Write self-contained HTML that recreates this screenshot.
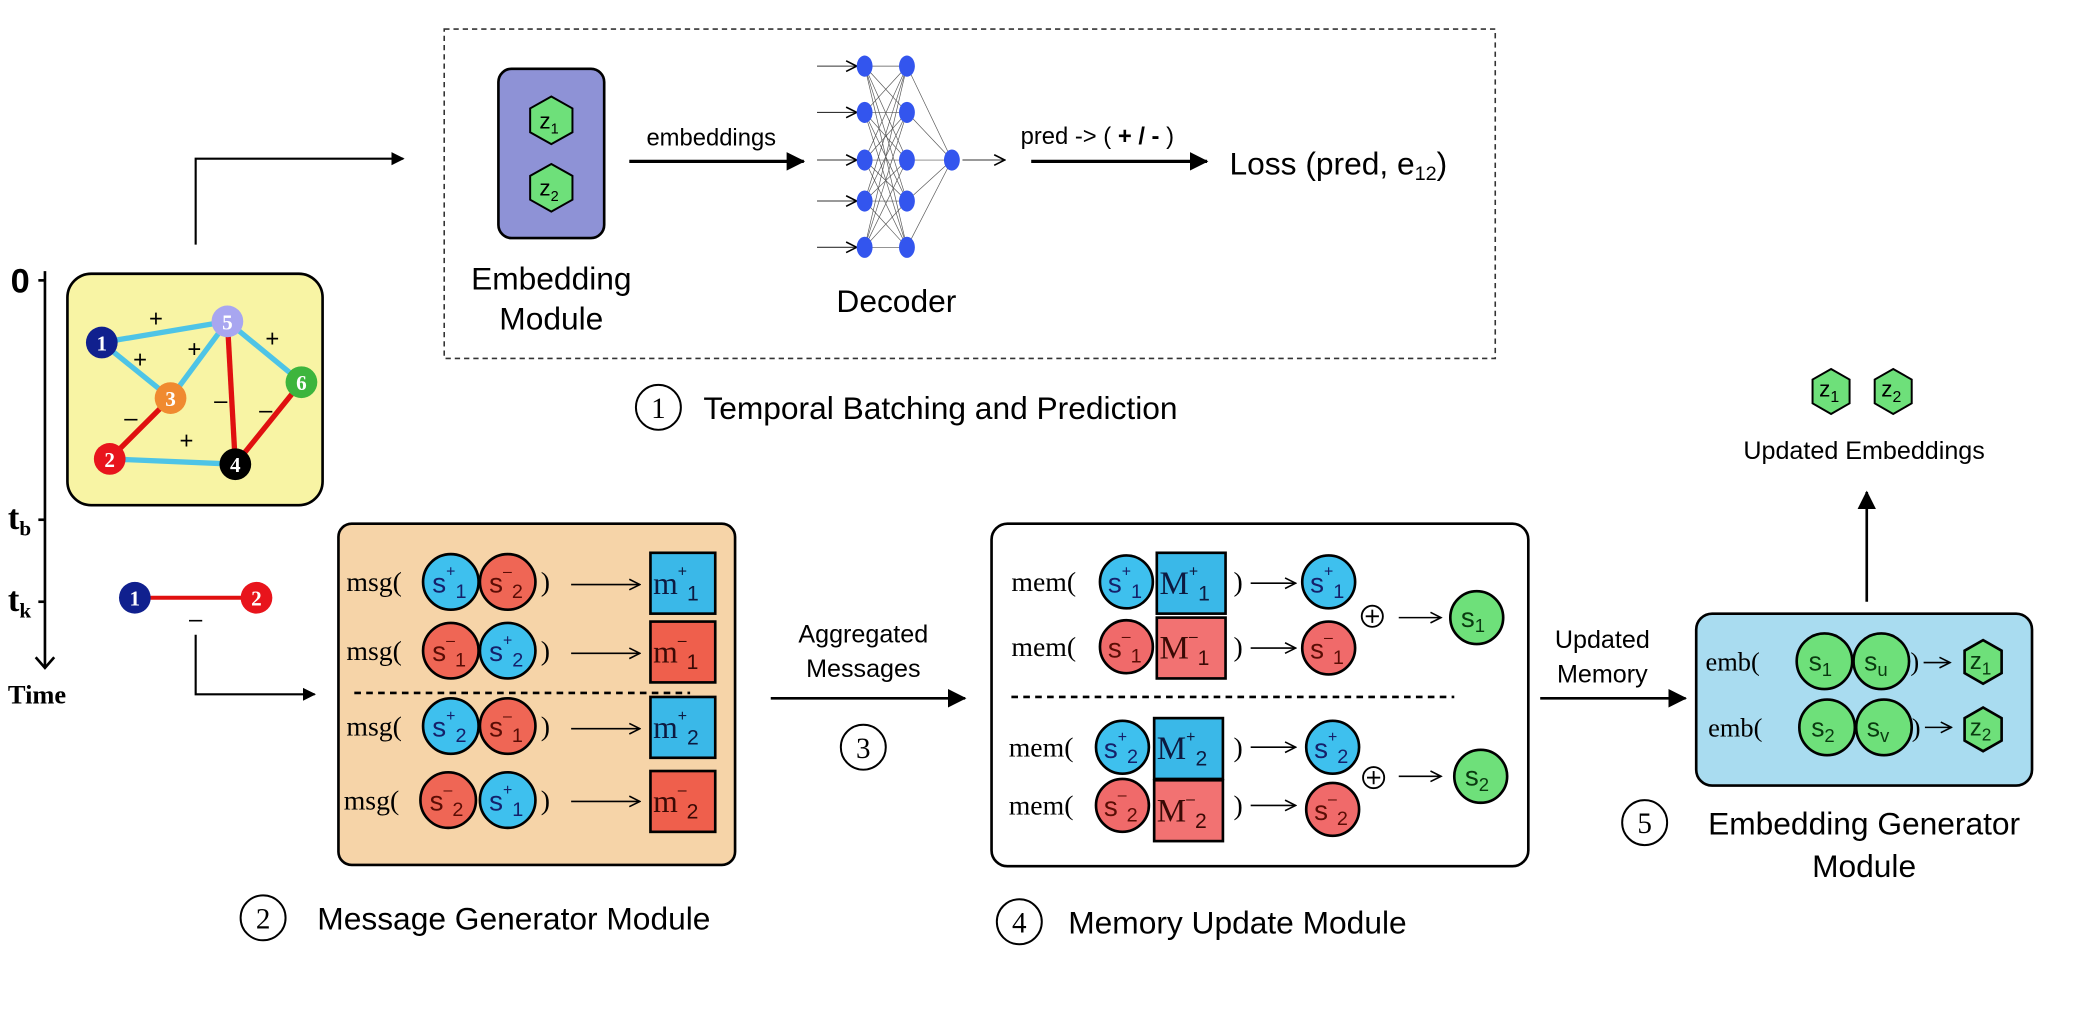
<!DOCTYPE html>
<html><head><meta charset="utf-8"><style>
html,body{margin:0;padding:0;background:#fff;width:2073px;height:1017px;overflow:hidden}
svg{display:block}
.sans{font-family:"Liberation Sans",sans-serif}
.serif{font-family:"Liberation Serif",serif}
</style></head><body>
<svg width="2073" height="1017" viewBox="0 0 1568 769" preserveAspectRatio="none" xmlns="http://www.w3.org/2000/svg">
<defs>
<marker id="ah" markerWidth="10" markerHeight="10" refX="9" refY="5" orient="auto" markerUnits="userSpaceOnUse"><path d="M0,0 L10,5 L0,10 z" fill="#000"/></marker>
<marker id="ab" markerWidth="14" markerHeight="14" refX="13" refY="7" orient="auto" markerUnits="userSpaceOnUse"><path d="M0,0 L14,7 L0,14 z" fill="#000"/></marker>
<marker id="as" markerWidth="10" markerHeight="10" refX="9" refY="5" orient="auto" markerUnits="userSpaceOnUse"><path d="M1,1 L9,5 L1,9" fill="none" stroke="#000" stroke-width="1.2"/></marker>
</defs>
<rect width="1568" height="769" fill="#fff"/>

<!-- Time axis -->
<g class="serif" font-weight="bold">
<line x1="34" y1="205" x2="34" y2="505" stroke="#000" stroke-width="2"/>
<path d="M27,497 L34,505 L41,497" fill="none" stroke="#000" stroke-width="2"/>
<line x1="29" y1="212" x2="34" y2="212" stroke="#000" stroke-width="2"/>
<line x1="29" y1="393" x2="34" y2="393" stroke="#000" stroke-width="2"/>
<line x1="29" y1="455" x2="34" y2="455" stroke="#000" stroke-width="2"/>
<text x="8" y="221" font-size="26" class="sans">0</text>
<text x="6" y="400" font-size="26">t<tspan font-size="16" dy="5">b</tspan></text>
<text x="6" y="462" font-size="26">t<tspan font-size="16" dy="5">k</tspan></text>
<text x="6" y="532" font-size="20">Time</text>
</g>

<!-- Yellow graph -->
<rect x="51" y="207" width="193" height="175" rx="18" fill="#f8f4a4" stroke="#000" stroke-width="2"/>
<g stroke-width="4">
<line x1="77" y1="259" x2="172" y2="243" stroke="#4ec4e6"/>
<line x1="77" y1="259" x2="129" y2="301" stroke="#4ec4e6"/>
<line x1="129" y1="301" x2="172" y2="243" stroke="#4ec4e6"/>
<line x1="172" y1="243" x2="228" y2="289" stroke="#4ec4e6"/>
<line x1="83" y1="347" x2="178" y2="351" stroke="#4ec4e6"/>
<line x1="129" y1="301" x2="83" y2="347" stroke="#e01010"/>
<line x1="172" y1="243" x2="178" y2="351" stroke="#e01010"/>
<line x1="228" y1="289" x2="178" y2="351" stroke="#e01010"/>
</g>
<g class="sans" font-size="18" text-anchor="middle">
<text x="118" y="247">+</text><text x="106" y="278">+</text><text x="147" y="270">+</text><text x="206" y="262">+</text><text x="141" y="339">+</text>
<text x="99" y="322">–</text><text x="167" y="309">–</text><text x="201" y="316">–</text>
</g>
<g class="serif" font-weight="bold" font-size="16" text-anchor="middle" fill="#fff">
<circle cx="77" cy="259" r="12" fill="#10208e"/><text x="77" y="265">1</text>
<circle cx="172" cy="243" r="12" fill="#a8a6f0"/><text x="172" y="249">5</text>
<circle cx="129" cy="301" r="12" fill="#f08a30"/><text x="129" y="307">3</text>
<circle cx="228" cy="289" r="12" fill="#3db53d"/><text x="228" y="295">6</text>
<circle cx="83" cy="347" r="12" fill="#e8141c"/><text x="83" y="353">2</text>
<circle cx="178" cy="351" r="12" fill="#000"/><text x="178" y="357">4</text>
</g>

<!-- tk edge -->
<line x1="102" y1="452" x2="194" y2="452" stroke="#e01010" stroke-width="3"/>
<g class="serif" font-weight="bold" font-size="16" text-anchor="middle" fill="#fff">
<circle cx="102" cy="452" r="12" fill="#10208e"/><text x="102" y="458">1</text>
<circle cx="194" cy="452" r="12" fill="#e8141c"/><text x="194" y="458">2</text>
</g>
<text x="148" y="474" class="sans" font-size="18" text-anchor="middle">–</text>
<polyline points="148,480 148,525 238,525" fill="none" stroke="#000" stroke-width="1.6" marker-end="url(#ah)"/>
<polyline points="148,185 148,120 305,120" fill="none" stroke="#000" stroke-width="1.6" marker-end="url(#ah)"/>

<!-- Top dashed box -->
<rect x="336" y="22" width="795" height="249" fill="none" stroke="#333" stroke-width="1.2" stroke-dasharray="4,3"/>
<rect x="377" y="52" width="80" height="128" rx="10" fill="#8e92d6" stroke="#000" stroke-width="2"/>
<g class="sans" font-size="17">
<polygon points="417,73 433,82 433,100 417,109 401,100 401,82" fill="#6ee07a" stroke="#000" stroke-width="1.5"/>
<text x="408" y="97">z<tspan font-size="11" dy="4">1</tspan></text>
<polygon points="417,124 433,133 433,151 417,160 401,151 401,133" fill="#6ee07a" stroke="#000" stroke-width="1.5"/>
<text x="408" y="148">z<tspan font-size="11" dy="4">2</tspan></text>
</g>
<g class="sans" font-size="24" text-anchor="middle">
<text x="417" y="219">Embedding</text><text x="417" y="249">Module</text>
<text x="678" y="236">Decoder</text>
</g>
<text x="538" y="110" class="sans" font-size="18" text-anchor="middle">embeddings</text>
<line x1="476" y1="122" x2="608" y2="122" stroke="#000" stroke-width="2.5" marker-end="url(#ab)"/>

<!-- NN -->
<g stroke="#555" stroke-width="0.5">
<line x1="654" y1="50" x2="686" y2="50"/><line x1="654" y1="50" x2="686" y2="85"/><line x1="654" y1="50" x2="686" y2="121"/><line x1="654" y1="50" x2="686" y2="152"/><line x1="654" y1="50" x2="686" y2="187"/>
<line x1="654" y1="85" x2="686" y2="50"/><line x1="654" y1="85" x2="686" y2="85"/><line x1="654" y1="85" x2="686" y2="121"/><line x1="654" y1="85" x2="686" y2="152"/><line x1="654" y1="85" x2="686" y2="187"/>
<line x1="654" y1="121" x2="686" y2="50"/><line x1="654" y1="121" x2="686" y2="85"/><line x1="654" y1="121" x2="686" y2="121"/><line x1="654" y1="121" x2="686" y2="152"/><line x1="654" y1="121" x2="686" y2="187"/>
<line x1="654" y1="152" x2="686" y2="50"/><line x1="654" y1="152" x2="686" y2="85"/><line x1="654" y1="152" x2="686" y2="121"/><line x1="654" y1="152" x2="686" y2="152"/><line x1="654" y1="152" x2="686" y2="187"/>
<line x1="654" y1="187" x2="686" y2="50"/><line x1="654" y1="187" x2="686" y2="85"/><line x1="654" y1="187" x2="686" y2="121"/><line x1="654" y1="187" x2="686" y2="152"/><line x1="654" y1="187" x2="686" y2="187"/>
<line x1="686" y1="50" x2="720" y2="121"/><line x1="686" y1="85" x2="720" y2="121"/><line x1="686" y1="121" x2="720" y2="121"/><line x1="686" y1="152" x2="720" y2="121"/><line x1="686" y1="187" x2="720" y2="121"/>
</g>
<g stroke="#333" stroke-width="0.8">
<line x1="618" y1="50" x2="648" y2="50" marker-end="url(#as)"/><line x1="618" y1="85" x2="648" y2="85" marker-end="url(#as)"/><line x1="618" y1="121" x2="648" y2="121" marker-end="url(#as)"/><line x1="618" y1="152" x2="648" y2="152" marker-end="url(#as)"/><line x1="618" y1="187" x2="648" y2="187" marker-end="url(#as)"/>
<line x1="728" y1="121" x2="760" y2="121" marker-end="url(#as)"/>
</g>
<g fill="#3355ee">
<ellipse cx="654" cy="50" rx="6" ry="8"/><ellipse cx="654" cy="85" rx="6" ry="8"/><ellipse cx="654" cy="121" rx="6" ry="8"/><ellipse cx="654" cy="152" rx="6" ry="8"/><ellipse cx="654" cy="187" rx="6" ry="8"/>
<ellipse cx="686" cy="50" rx="6" ry="8"/><ellipse cx="686" cy="85" rx="6" ry="8"/><ellipse cx="686" cy="121" rx="6" ry="8"/><ellipse cx="686" cy="152" rx="6" ry="8"/><ellipse cx="686" cy="187" rx="6" ry="8"/>
<ellipse cx="720" cy="121" rx="6" ry="8"/>
</g>
<text x="772" y="109" class="sans" font-size="18">pred -&gt; ( <tspan font-weight="bold">+ / -</tspan> )</text>
<line x1="780" y1="122" x2="913" y2="122" stroke="#000" stroke-width="2.5" marker-end="url(#ab)"/>
<text x="930" y="132" class="sans" font-size="24">Loss (pred, e<tspan font-size="15" dy="4">12</tspan><tspan dy="-4">)</tspan></text>

<circle cx="498" cy="308" r="17" fill="none" stroke="#000" stroke-width="1.5"/>
<text x="498" y="316" class="serif" font-size="22" text-anchor="middle">1</text>
<text x="532" y="317" class="sans" font-size="24">Temporal Batching and Prediction</text>

<!-- Message box -->
<rect x="256" y="396" width="300" height="258" rx="10" fill="#f6d4a8" stroke="#000" stroke-width="2"/>
<line x1="268" y1="524" x2="522" y2="524" stroke="#000" stroke-width="2" stroke-dasharray="5,4"/>
<g class="serif" font-size="21">
<text x="262" y="447">msg(</text><text x="262" y="499">msg(</text><text x="262" y="556">msg(</text><text x="260" y="612">msg(</text>
<text x="409" y="447">)</text><text x="409" y="499">)</text><text x="409" y="556">)</text><text x="409" y="612">)</text>
</g>
<g stroke="#000" stroke-width="1.2">
<line x1="432" y1="442" x2="484" y2="442" marker-end="url(#as)"/><line x1="432" y1="494" x2="484" y2="494" marker-end="url(#as)"/><line x1="432" y1="551" x2="484" y2="551" marker-end="url(#as)"/><line x1="432" y1="606" x2="484" y2="606" marker-end="url(#as)"/>
</g>
<g stroke="#000" stroke-width="2">
<circle cx="341" cy="440" r="21" fill="#3ec0ee"/><circle cx="384" cy="440" r="21" fill="#ef6655"/>
<circle cx="341" cy="492" r="21" fill="#ef6655"/><circle cx="384" cy="492" r="21" fill="#3ec0ee"/>
<circle cx="341" cy="549" r="21" fill="#3ec0ee"/><circle cx="384" cy="549" r="21" fill="#ef6655"/>
<circle cx="339" cy="605" r="21" fill="#ef6655"/><circle cx="384" cy="605" r="21" fill="#3ec0ee"/>
<rect x="492" y="418" width="49" height="46" fill="#3ab8e8"/><rect x="492" y="470" width="49" height="46" fill="#ef5f4c"/>
<rect x="492" y="527" width="49" height="46" fill="#3ab8e8"/><rect x="492" y="583" width="49" height="46" fill="#ef5f4c"/>
</g>
<g class="sans" font-size="21" fill="#15206a">
<text x="327" y="448">s<tspan font-size="12" dy="-12">+</tspan><tspan font-size="15" dy="16">1</tspan></text>
<text x="370" y="448" fill="#5a0d05">s<tspan font-size="12" dy="-12">–</tspan><tspan font-size="15" dy="16">2</tspan></text>
<text x="327" y="500" fill="#5a0d05">s<tspan font-size="12" dy="-12">–</tspan><tspan font-size="15" dy="16">1</tspan></text>
<text x="370" y="500">s<tspan font-size="12" dy="-12">+</tspan><tspan font-size="15" dy="16">2</tspan></text>
<text x="327" y="557">s<tspan font-size="12" dy="-12">+</tspan><tspan font-size="15" dy="16">2</tspan></text>
<text x="370" y="557" fill="#5a0d05">s<tspan font-size="12" dy="-12">–</tspan><tspan font-size="15" dy="16">1</tspan></text>
<text x="325" y="613" fill="#5a0d05">s<tspan font-size="12" dy="-12">–</tspan><tspan font-size="15" dy="16">2</tspan></text>
<text x="370" y="613">s<tspan font-size="12" dy="-12">+</tspan><tspan font-size="15" dy="16">1</tspan></text>
</g>
<g class="serif" font-size="24" fill="#0d1a40">
<text x="494" y="449">m<tspan class="sans" font-size="12" dy="-13">+</tspan><tspan class="sans" font-size="16" dy="18">1</tspan></text>
<text x="494" y="501" fill="#3a0a05">m<tspan class="sans" font-size="12" dy="-13">–</tspan><tspan class="sans" font-size="16" dy="18">1</tspan></text>
<text x="494" y="558">m<tspan class="sans" font-size="12" dy="-13">+</tspan><tspan class="sans" font-size="16" dy="18">2</tspan></text>
<text x="494" y="614" fill="#3a0a05">m<tspan class="sans" font-size="12" dy="-13">–</tspan><tspan class="sans" font-size="16" dy="18">2</tspan></text>
</g>
<circle cx="199" cy="694" r="17" fill="none" stroke="#000" stroke-width="1.5"/>
<text x="199" y="702" class="serif" font-size="22" text-anchor="middle">2</text>
<text x="240" y="703" class="sans" font-size="24">Message Generator Module</text>

<!-- Aggregated -->
<line x1="583" y1="528" x2="730" y2="528" stroke="#000" stroke-width="2" marker-end="url(#ab)"/>
<g class="sans" font-size="19" text-anchor="middle"><text x="653" y="486">Aggregated</text><text x="653" y="512">Messages</text></g>
<circle cx="653" cy="565" r="17" fill="none" stroke="#000" stroke-width="1.5"/>
<text x="653" y="573" class="serif" font-size="22" text-anchor="middle">3</text>

<!-- Memory box -->
<rect x="750" y="396" width="406" height="259" rx="12" fill="#fff" stroke="#000" stroke-width="2"/>
<line x1="765" y1="527" x2="1100" y2="527" stroke="#000" stroke-width="2" stroke-dasharray="5,4"/>
<g class="serif" font-size="21">
<text x="765" y="447">mem(</text><text x="765" y="496">mem(</text><text x="763" y="572">mem(</text><text x="763" y="616">mem(</text>
<text x="933" y="447">)</text><text x="933" y="496">)</text><text x="933" y="572">)</text><text x="933" y="616">)</text>
</g>
<g stroke="#000" stroke-width="1.2">
<line x1="946" y1="441" x2="980" y2="441" marker-end="url(#as)"/><line x1="946" y1="490" x2="980" y2="490" marker-end="url(#as)"/>
<line x1="946" y1="565" x2="980" y2="565" marker-end="url(#as)"/><line x1="946" y1="609" x2="980" y2="609" marker-end="url(#as)"/>
<line x1="1058" y1="467" x2="1090" y2="467" marker-end="url(#as)"/><line x1="1058" y1="587" x2="1090" y2="587" marker-end="url(#as)"/>
</g>
<g stroke="#000" stroke-width="2">
<circle cx="852" cy="440" r="20" fill="#3ec0ee"/><circle cx="852" cy="489" r="20" fill="#f06a6a"/>
<circle cx="849" cy="565" r="20" fill="#3ec0ee"/><circle cx="849" cy="609" r="20" fill="#f06a6a"/>
<rect x="875" y="418" width="52" height="46" fill="#3ab8e8"/><rect x="875" y="467" width="52" height="46" fill="#f27272"/>
<rect x="873" y="543" width="52" height="46" fill="#3ab8e8"/><rect x="873" y="590" width="52" height="46" fill="#f27272"/>
<circle cx="1005" cy="440" r="20" fill="#3ec0ee"/><circle cx="1005" cy="490" r="20" fill="#f06a6a"/>
<circle cx="1008" cy="565" r="20" fill="#3ec0ee"/><circle cx="1008" cy="612" r="20" fill="#f06a6a"/>
<circle cx="1117" cy="467" r="20" fill="#6ee07a"/><circle cx="1120" cy="587" r="20" fill="#6ee07a"/>
</g>
<g stroke="#000" stroke-width="1.4" fill="none">
<circle cx="1038" cy="466" r="8"/><line x1="1033" y1="466" x2="1043" y2="466"/><line x1="1038" y1="461" x2="1038" y2="471"/>
<circle cx="1039" cy="588" r="8"/><line x1="1034" y1="588" x2="1044" y2="588"/><line x1="1039" y1="583" x2="1039" y2="593"/>
</g>
<g class="sans" font-size="21" fill="#15206a">
<text x="838" y="448">s<tspan font-size="12" dy="-12">+</tspan><tspan font-size="15" dy="16">1</tspan></text>
<text x="838" y="497" fill="#5a0d05">s<tspan font-size="12" dy="-12">–</tspan><tspan font-size="15" dy="16">1</tspan></text>
<text x="835" y="573">s<tspan font-size="12" dy="-12">+</tspan><tspan font-size="15" dy="16">2</tspan></text>
<text x="835" y="617" fill="#5a0d05">s<tspan font-size="12" dy="-12">–</tspan><tspan font-size="15" dy="16">2</tspan></text>
<text x="991" y="448">s<tspan font-size="12" dy="-12">+</tspan><tspan font-size="15" dy="16">1</tspan></text>
<text x="991" y="498" fill="#5a0d05">s<tspan font-size="12" dy="-12">–</tspan><tspan font-size="15" dy="16">1</tspan></text>
<text x="994" y="573">s<tspan font-size="12" dy="-12">+</tspan><tspan font-size="15" dy="16">2</tspan></text>
<text x="994" y="620" fill="#5a0d05">s<tspan font-size="12" dy="-12">–</tspan><tspan font-size="15" dy="16">2</tspan></text>
<text x="1105" y="474" fill="#0a3a10">s<tspan font-size="14" dy="4">1</tspan></text>
<text x="1108" y="594" fill="#0a3a10">s<tspan font-size="14" dy="4">2</tspan></text>
</g>
<g class="serif" font-size="25" fill="#0d1a40">
<text x="877" y="449">M<tspan class="sans" font-size="12" dy="-13">+</tspan><tspan class="sans" font-size="16" dy="18">1</tspan></text>
<text x="877" y="498" fill="#3a0a05">M<tspan class="sans" font-size="12" dy="-13">–</tspan><tspan class="sans" font-size="16" dy="18">1</tspan></text>
<text x="875" y="574">M<tspan class="sans" font-size="12" dy="-13">+</tspan><tspan class="sans" font-size="16" dy="18">2</tspan></text>
<text x="875" y="621" fill="#3a0a05">M<tspan class="sans" font-size="12" dy="-13">–</tspan><tspan class="sans" font-size="16" dy="18">2</tspan></text>
</g>
<circle cx="771" cy="697" r="17" fill="none" stroke="#000" stroke-width="1.5"/>
<text x="771" y="705" class="serif" font-size="22" text-anchor="middle">4</text>
<text x="808" y="706" class="sans" font-size="24">Memory Update Module</text>

<!-- Updated memory -->
<line x1="1165" y1="528" x2="1275" y2="528" stroke="#000" stroke-width="2" marker-end="url(#ab)"/>
<g class="sans" font-size="19" text-anchor="middle"><text x="1212" y="490">Updated</text><text x="1212" y="516">Memory</text></g>

<!-- Emb box -->
<rect x="1283" y="464" width="254" height="130" rx="12" fill="#a9dcf0" stroke="#000" stroke-width="2"/>
<g class="serif" font-size="20"><text x="1290" y="507">emb(</text><text x="1292" y="557">emb(</text><text x="1445" y="507">)</text><text x="1446" y="557">)</text></g>
<g stroke="#000" stroke-width="1.2"><line x1="1455" y1="501" x2="1475" y2="501" marker-end="url(#as)"/><line x1="1456" y1="550" x2="1476" y2="550" marker-end="url(#as)"/></g>
<g stroke="#000" stroke-width="2" fill="#6ee07a">
<circle cx="1380" cy="500" r="21"/><circle cx="1423" cy="500" r="21"/>
<circle cx="1382" cy="550" r="21"/><circle cx="1425" cy="550" r="21"/>
<polygon points="1500,484 1514,492 1514,509 1500,517 1486,509 1486,492"/>
<polygon points="1500,535 1514,543 1514,560 1500,568 1486,560 1486,543"/>
<polygon points="1385,279 1399,287 1399,305 1385,313 1371,305 1371,287" stroke-width="1.5"/>
<polygon points="1432,279 1446,287 1446,305 1432,313 1418,305 1418,287" stroke-width="1.5"/>
</g>
<g class="sans" font-size="20" fill="#0a3a10">
<text x="1368" y="507">s<tspan font-size="14" dy="4">1</tspan></text>
<text x="1410" y="507">s<tspan font-size="14" dy="4">u</tspan></text>
<text x="1370" y="557">s<tspan font-size="14" dy="4">2</tspan></text>
<text x="1412" y="557">s<tspan font-size="14" dy="4">v</tspan></text>
<text x="1490" y="506" font-size="18">z<tspan font-size="13" dy="4">1</tspan></text>
<text x="1490" y="556" font-size="18">z<tspan font-size="13" dy="4">2</tspan></text>
<text x="1376" y="300" font-size="17" fill="#000">z<tspan font-size="12" dy="4">1</tspan></text>
<text x="1423" y="300" font-size="17" fill="#000">z<tspan font-size="12" dy="4">2</tspan></text>
</g>
<line x1="1412" y1="455" x2="1412" y2="372" stroke="#000" stroke-width="2" marker-end="url(#ab)"/>
<text x="1410" y="347" class="sans" font-size="19" text-anchor="middle">Updated Embeddings</text>
<circle cx="1244" cy="622" r="17" fill="none" stroke="#000" stroke-width="1.5"/>
<text x="1244" y="630" class="serif" font-size="22" text-anchor="middle">5</text>
<g class="sans" font-size="24" text-anchor="middle"><text x="1410" y="631">Embedding Generator</text><text x="1410" y="663">Module</text></g>
</svg>
</body></html>
